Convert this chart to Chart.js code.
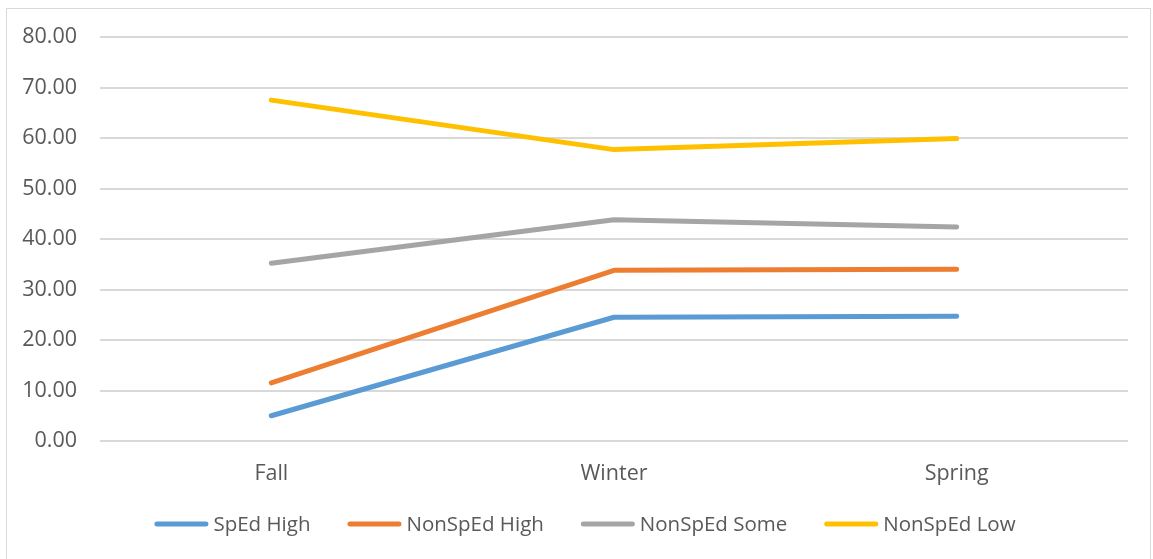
<!DOCTYPE html>
<html>
<head>
<meta charset="utf-8">
<script src="https://cdn.jsdelivr.net/npm/chart.js@4.4.1/dist/chart.umd.min.js"></script>
<style>
    html, body { margin: 0; padding: 0; background: #ffffff; }
    #frame {
        position: absolute;
        left: 6px;
        top: 8px;
        width: 1145px;
        height: 560px;
        border: 1px solid #d9d9d9;
        box-sizing: border-box;
    }
    #wrap { position: absolute; left: 0; top: 0; width: 1153px; height: 559px; }
</style>
</head>
<body>
<div id="frame"></div>
<div id="wrap"><canvas id="termChart"></canvas></div>
<script>
const terms = ['Fall', 'Winter', 'Spring'];
const spedHigh = [5.0, 24.5, 24.7];
const nonSpedHigh = [11.5, 33.8, 34.0];
const nonSpedSome = [35.2, 43.8, 42.4];
const nonSpedLow = [67.5, 57.7, 59.9];

const textColor = '#595959';
const gridColor = '#d9d9d9';
const fontFamily = "'Open Sans', 'Noto Sans', sans-serif";

function makeSeries(label, data, color) {
    return {
        label: label,
        data: data,
        borderColor: color,
        backgroundColor: color,
        borderWidth: 5,
        borderCapStyle: 'round',
        borderJoinStyle: 'round',
        pointRadius: 0,
        pointHoverRadius: 0,
        tension: 0,
        fill: false
    };
}

// legend drawn by hand: short line swatch, tight gap before the label
const lineLegend = {
    id: 'lineLegend',
    afterDraw: function(chart) {
        const c = chart.ctx;
        const swatch = 54, gap = 5, spacing = 37, centerX = 585, y = 524;
        c.save();
        c.font = '20.5px ' + fontFamily;
        c.textBaseline = 'middle';
        const items = chart.data.datasets.map(ds => ({
            text: ds.label,
            color: ds.borderColor,
            width: swatch + gap + c.measureText(ds.label).width
        }));
        const total = items.reduce((s, it) => s + it.width, 0) + spacing * (items.length - 1);
        let x = centerX - total / 2;
        items.forEach(it => {
            c.strokeStyle = it.color;
            c.lineWidth = 5;
            c.lineCap = 'round';
            c.beginPath();
            c.moveTo(x + 2.5, y);
            c.lineTo(x + swatch - 2.5, y);
            c.stroke();
            c.fillStyle = textColor;
            c.fillText(it.text, x + swatch + gap, y + 1);
            x += it.width + spacing;
        });
        c.restore();
    }
};

const ctx = document.getElementById('termChart').getContext('2d');
const chart = new Chart(ctx, {
    type: 'line',
    data: {
        labels: terms,
        datasets: [
            makeSeries('SpEd High', spedHigh, '#5b9bd5'),
            makeSeries('NonSpEd High', nonSpedHigh, '#ed7d31'),
            makeSeries('NonSpEd Some', nonSpedSome, '#a5a5a5'),
            makeSeries('NonSpEd Low', nonSpedLow, '#ffc000')
        ]
    },
    options: {
        responsive: true,
        maintainAspectRatio: false,
        animation: false,
        events: [],
        layout: {
            padding: { top: 37, right: 25, left: 0, bottom: 60 }
        },
        plugins: {
            tooltip: { enabled: false },
            legend: { display: false }
        },
        scales: {
            x: {
                offset: true,
                grid: { display: false, drawTicks: false },
                border: { display: false },
                ticks: {
                    color: textColor,
                    padding: 20,
                    font: { family: fontFamily, size: 21.5 }
                },
                afterFit: function(scale) { scale.height = 58; }
            },
            y: {
                min: 0,
                max: 80,
                grid: { color: gridColor, lineWidth: 2, drawTicks: false },
                border: { display: false },
                ticks: {
                    stepSize: 10,
                    color: textColor,
                    padding: 23,
                    font: { family: fontFamily, size: 21.5 },
                    callback: function(value) { return value.toFixed(2); }
                },
                afterFit: function(scale) { scale.width = 100; }
            }
        }
    },
    plugins: [lineLegend]
});
</script>
</body>
</html>
